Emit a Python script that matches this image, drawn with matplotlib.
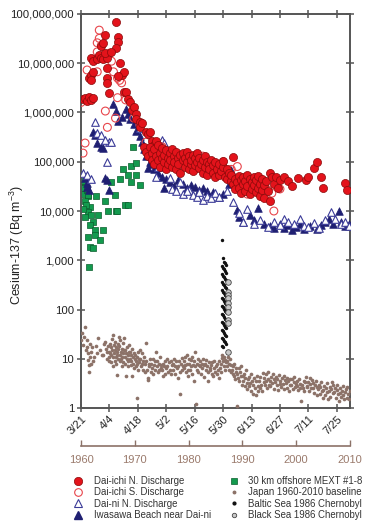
"""
Cesium-137 off Fukushima (2011) vs. historical baselines
"""
import numpy as np
import matplotlib
matplotlib.use("Agg")
import matplotlib.pyplot as plt
from matplotlib.ticker import FuncFormatter, NullLocator
from matplotlib.lines import Line2D

plt.rcParams["font.family"] = ["Liberation Sans", "DejaVu Sans"]
plt.rcParams["mathtext.default"] = "regular"

# -----------------------------
# Data (days since 3/21/2011, Bq m-3)
# -----------------------------
date_ticks = [0, 14, 28, 42, 56, 70, 84, 98, 112, 126]
date_labels = ["3/21", "4/4", "4/18", "5/2", "5/16", "5/30", "6/13", "6/27", "7/11", "7/25"]
year_ticks = [1960, 1970, 1980, 1990, 2000, 2010]

dn_day = [1, 2, 3, 4, 5, 6, 4, 5, 6, 5,
          5, 6, 8, 9, 10, 11, 13, 12, 10, 11, 12, 17, 18, 18, 17, 15, 19,
          13, 13, 13, 14, 20, 21, 18,
          21, 22, 23, 24, 25, 26, 27, 27, 29, 29, 30, 32, 33, 34, 35, 36, 37, 38,
          31, 32, 33, 34, 35, 35, 36, 36, 37, 38, 38, 39, 39, 40, 40, 41, 41, 42, 42,
          43, 43, 44, 44, 45, 45, 46, 46, 47, 47, 48, 48, 49, 49, 50, 50, 51, 51, 52,
          52, 53, 53, 54, 54, 55, 55, 56, 56, 57, 57, 58, 58, 59, 60, 60, 61, 61, 62,
          62, 63, 63, 64, 65, 65, 66, 66, 67, 68, 68, 69, 70, 70, 71, 72, 72, 73, 75,
          74, 74, 75, 76, 76, 77, 78, 78, 79, 79, 80, 80, 81, 81, 82, 82, 83, 83, 84,
          84, 85, 85, 86, 86, 87, 87, 88, 88, 89, 89, 90, 90, 91, 92, 93, 93, 94, 95,
          96, 97, 98, 100, 102, 104, 107,
          111, 112, 115, 116, 118, 119, 130, 131]
dn_val = [1.9e6, 2.0e6, 1.7e6, 2.1e6, 1.8e6, 2.0e6, 5.0e6, 5.8e6, 6.7e6, 4.6e6,
          1.3e7, 1.1e7, 1.2e7, 1.5e7, 1.3e7, 1.2e7, 1.3e7, 1.6e7, 2.2e7, 2.6e7, 3.7e7, 6.9e7, 3.4e7, 2.7e7, 2.0e7, 1.7e7, 1.0e7,
          8.0e6, 5.0e6, 4.0e6, 2.5e6, 5.8e6, 6.6e6, 5.5e6,
          2.6e6, 2.6e6, 1.9e6, 1.6e6, 1.1e6, 1.3e6, 9.4e5, 7.4e5, 6.5e5, 5.0e5, 6.0e5, 4.0e5, 3.6e5, 4.0e5, 2.6e5, 2.2e5, 2.6e5, 1.8e5,
          2.0e5, 1.6e5, 1.3e5, 2.0e5, 1.5e5, 1.1e5, 9e4, 1.8e5, 1.3e5, 1.1e5, 2.2e5, 1.5e5, 8e4, 1.2e5, 1.9e5, 1.0e5, 1.4e5, 7e4, 1.7e5,
          1.2e5, 9e4, 1.5e5, 1.1e5, 1.8e5, 8e4, 1.3e5, 1.0e5, 1.6e5, 7e4, 1.2e5, 9e4, 1.4e5, 6e4, 1.1e5, 1.5e5, 8e4, 1.2e5, 1.0e5,
          1.6e5, 7e4, 1.3e5, 9e4, 1.1e5, 1.4e5, 6.5e4, 1.2e5, 8.5e4, 1.0e5, 1.5e5, 7.5e4, 1.2e5, 9e4, 1.1e5, 6e4, 1.3e5, 8e4, 1.0e5,
          5.5e4, 9e4, 7e4, 1.1e5, 6e4, 8.5e4, 1.0e5, 5e4, 7e4, 9e4, 5.5e4, 6.5e4, 8e4, 1.05e5, 5e4, 7e4, 4.5e4, 6e4, 1.26e5,
          4.0e4, 5.5e4, 3.5e4, 4.5e4, 2.8e4, 3.8e4, 5.2e4, 3.0e4, 4.2e4, 2.3e4, 3.5e4, 5.0e4, 2.6e4, 4.0e4, 3.2e4, 5.5e4, 2.2e4, 4.5e4, 3.8e4,
          2.8e4, 4.8e4, 3.3e4, 2.4e4, 4.2e4, 3.0e4, 5.2e4, 2.0e4, 3.6e4, 4.5e4, 2.7e4, 3.3e4, 1.8e4, 4.0e4, 2.5e4, 6.0e4, 1.6e4, 5.0e4, 3.6e4,
          4.8e4, 3.0e4, 4.2e4, 5.0e4, 4.0e4, 3.2e4, 4.7e4,
          4.2e4, 5.0e4, 7.5e4, 1.0e5, 5.0e4, 3.0e4, 3.7e4, 2.7e4]

ds_day = [0, 2, 1, 13, 12, 18, 19, 3, 6, 8, 8, 9, 9, 10, 11, 14, 15, 8, 16, 18, 20,
          22, 17, 26, 29,
          32, 35, 38, 40, 42, 44, 46, 48, 50, 52, 54, 56, 58, 60, 62, 64, 66, 68, 70,
          72, 74, 76, 77, 78, 80, 82, 84, 86, 88, 90, 92, 94, 95, 96, 98]
ds_val = [1.6e6, 2.4e5, 1.5e5, 5e5, 1.07e6, 2e6, 4.5e6, 7.3e6, 1.2e7, 1.7e7, 2.6e7, 4.7e7, 3.2e7, 2.3e7, 1.3e7, 1.6e7, 1.1e7, 6.7e6, 6.7e6, 5e6, 4e6,
          1.8e6, 7.7e5, 7.7e5, 5.6e5,
          2.5e5, 1.7e5, 1.3e5, 2.0e5, 1.5e5, 1.0e5, 1.2e5, 8e4, 1.3e5, 9e4, 1.2e5, 7e4, 1.0e5, 1.3e5, 8e4, 6e4, 9e4, 7e4, 1.0e5,
          5e4, 7e4, 3.5e4, 8e4, 4.5e4, 3e4, 2.2e4, 4e4, 2.8e4, 3.4e4, 2.4e4, 2.7e4, 2.3e4, 1.0e4, 3.5e4, 2.8e4]

dni_day = [1, 3, 5, 7, 8, 10, 13, 14, 12, 29, 40, 38, 44, 49, 53, 15, 41, 37,
           45, 47, 50, 52, 55, 57, 58, 60, 62, 64, 66, 68, 72, 75, 78, 80, 82, 85,
           88, 92, 95, 98, 100, 102, 105, 108, 110, 112, 115, 117, 120, 123, 125, 128, 130, 132]
dni_val = [5.9e4, 5.4e4, 4.5e4, 6.4e5, 3.8e5, 3.5e5, 9.8e4, 2.5e5, 2.8e5, 4.8e5, 2.8e5, 8e4, 4.7e4, 3.9e4, 2.7e4, 2.5e5, 2.4e5, 5e4,
           2.8e4, 2.5e4, 2.2e4, 2.6e4, 2.1e4, 1.9e4, 2.4e4, 1.7e4, 2.0e4, 1.8e4, 2.3e4, 1.9e4, 2.5e4, 1.5e4, 9e3, 6e3, 1.1e4, 5.5e3,
           6.5e3, 4.7e3, 6e3, 5.2e3, 7e3, 6e3, 5.5e3, 6.8e3, 5e3, 4.8e3, 5.8e3, 4.5e3, 6.5e3, 9.5e3, 7e3, 5.5e3, 6e3, 5e3]

iw_day = [2, 3, 4, 3, 6, 7, 8, 10, 11, 12, 13, 14, 16, 17, 18, 20, 22, 23, 24, 26, 27, 29,
          30, 31, 32, 33, 34, 35, 36, 38, 40, 41, 42, 44, 46, 48, 50, 52, 54, 56, 58, 60,
          62, 65, 68, 70, 73, 74, 75, 77, 78, 80, 83, 85, 87, 90, 93, 95, 98, 100, 102,
          104, 106, 108, 110, 113, 116, 118, 120, 122, 124, 127, 128, 130, 132]
iw_val = [4.6e4, 3.7e4, 2.7e4, 3.1e4, 4.0e5, 3.5e5, 2.4e5, 2.0e5, 1.9e5, 4.6e4, 4.3e4, 2.7e4, 1.5e6, 1.07e6, 6.7e5, 8e5, 1.2e6, 9.4e5, 7.4e5, 5.8e5, 4.2e5, 3.3e5,
          2.5e5, 1.8e5, 1.3e5, 7.5e4, 1.0e5, 9e4, 7e4, 6e4, 5e4, 3e4, 4.5e4, 3.8e4, 3.2e4, 4.3e4, 3.5e4, 2.9e4, 3.4e4, 3.1e4, 2.7e4, 3.0e4,
          2.6e4, 2.4e4, 1.9e4, 2.2e4, 3.5e4, 6.9e4, 5e4, 1.05e4, 7.6e3, 6e3, 8.3e3, 6.6e3, 1.15e4, 5.5e3, 5e3, 4.6e3, 5.5e3, 4.5e3, 5.2e3,
          4.2e3, 4.8e3, 5.5e3, 4.3e3, 5e3, 4.4e3, 5.2e3, 6e3, 7e3, 5.5e3, 1.0e4, 6e3, 5e3, 5.5e3]

mext_day = [2, 2.5, 3.4, 2, 4.4, 3.4, 2, 4.9, 8.4, 5.9, 4.4, 6.9, 10.8, 3.4, 6.9, 9.4, 4.4, 5.9, 3.9,
            7.4, 11.8, 13.3, 17.2, 21.7, 23.2, 14.8, 19.2, 20.7, 23.2, 24.6, 27.1, 27.1, 24.6, 29,
            25.6, 16.7, 17.7, 1, 1, 1.5, 2.5, 1, 3, 3.4]
mext_val = [3.6e4, 2.4e4, 2e4, 1.6e4, 1.2e4, 9.5e3, 7.6e3, 8.3e3, 8.3e3, 6e3, 5.2e3, 4.1e3, 4.1e3, 3e3, 3.3e3, 2.6e3, 1.9e3, 1.8e3, 730,
            2e4, 1.6e4, 1e4, 1e4, 1.3e4, 1.3e4, 3.9e4, 4.5e4, 7e4, 5.5e4, 8.2e4, 9.5e4, 5.3e4, 3.9e4, 3.3e4,
            2e5, 2.1e4, 1e4, 4e4, 3e4, 2.2e4, 1.3e4, 1.1e4, 2.7e4, 2.1e4]

# Japan 1960-2010 baseline, values per year
jp_years = list(range(1960, 2010))
jp_vals = [
    [24, 34, 19, 28, 45, 15],
    [24, 17, 9.5, 13, 7.6, 5.5, 11, 20, 14, 8],
    [17, 8.8, 11, 18, 13],
    [27, 15, 12],
    [12, 20, 22, 16, 10, 14],
    [18, 14, 11, 9, 20, 13, 8.5, 17, 12, 25, 15, 11, 7],
    [31, 19, 13, 9, 22, 15, 11, 8, 17, 12, 4.7, 14, 10, 20, 16],
    [28, 18, 12, 9, 24, 14, 10, 7, 16, 11, 13, 21, 8.5, 15],
    [26, 15, 11, 8, 4.4, 13, 10, 17, 7, 12, 9, 14, 19],
    [14, 10, 7.5, 12, 9, 4.4, 16, 11, 8, 13, 6.5, 10],
    [12, 9, 7, 1.6, 11, 8, 14, 6, 10, 8.5, 15],
    [10, 7, 13, 8, 6, 9, 11, 5.5, 8],
    [21, 9, 6, 4.1, 3.7, 8, 7, 10, 5.5],
    [8, 6.5, 10, 5, 7.5, 9, 6, 14],
    [7, 9, 5.5, 8, 6, 11, 6.5, 7.5],
    [6, 8, 4.5, 7, 9, 5, 6.5, 10],
    [7, 5.5, 8.5, 6, 9, 4.8, 7.5],
    [8, 6, 10, 7, 5, 9, 6.5, 4],
    [7, 9, 5.5, 1.9, 8, 6, 10.5, 7],
    [9, 6.5, 11, 7.5, 5.5, 8, 12, 6, 4.5],
    [8, 10, 6, 7, 9.5, 5, 11, 7.5, 3.5],
    [9, 14, 7, 1.2, 8, 6, 10, 5.5, 7.5],
    [7, 9, 5, 8, 6.5, 10, 4.2, 7.5],
    [8, 6, 9.5, 7, 5.5, 3.5, 8.5, 6.5],
    [6, 7.5, 5, 8.5, 4.5, 6.5, 9, 5.5],
    [7, 5, 8, 6, 4, 9, 6.5, 5.5],
    [8, 10.5, 12, 9, 7, 11, 6, 9.5, 8.5],
    [9, 7, 11, 6, 8, 10, 5.5, 7.5],
    [6, 5, 7, 4.5, 8, 3.8, 5.5, 6.5, 1.1],
    [5, 4, 6.5, 3.5, 5.5, 4.5, 7, 3],
    [4.5, 3.5, 5, 2.8, 4, 6, 3.2, 2.4],
    [3.8, 2.8, 4.2, 3.2, 2.2, 5, 3.5, 1.9],
    [3, 4, 2.5, 3.5, 1.8, 4.5, 2.8, 2.2],
    [3.5, 2.6, 4.2, 3, 2.2, 5.2, 3.3],
    [4, 3, 4.8, 3.5, 2.5, 5.5, 3.8, 2.9],
    [3.6, 2.8, 4.3, 3.2, 4.8, 2.4, 3.9],
    [3.4, 4.2, 2.9, 3.8, 2.3, 4.6, 3.1],
    [3.5, 2.7, 4, 3.1, 4.5, 2.4, 3.7],
    [3.2, 4.1, 2.6, 3.6, 2.2, 3.9, 2.9],
    [3, 3.8, 2.4, 3.4, 4.3, 2.7, 3.1],
    [2.8, 3.5, 2.3, 3.9, 3.1, 2.6, 1.4],
    [3, 2.5, 3.6, 2.2, 3.3, 4.2, 2.8],
    [2.7, 3.4, 2.2, 3.1, 4, 2.5, 3.7],
    [2.5, 3.2, 2, 2.9, 3.6, 1.8, 2.7],
    [2.4, 3, 1.9, 2.7, 3.4, 2.2, 1.6],
    [2.3, 2.8, 1.8, 2.5, 3.2, 2.1, 1.5],
    [2.2, 2.7, 1.7, 2.4, 3.3, 2, 2.9],
    [2.1, 2.6, 1.6, 2.3, 3, 1.9, 1.4],
    [2, 2.5, 1.7, 2.2, 2.8, 1.8, 1.5],
    [2.1, 2.4, 1.6, 2.7, 1.9, 1.5, 2.2],
]

baltic_val = [2600, 1100, 930, 880, 820, 760, 700, 650, 610, 560, 520, 480, 450, 420, 390,
              360, 335, 310, 290, 270, 250, 232, 215, 200, 186, 172, 160, 148, 137, 127,
              118, 110, 102, 95, 88, 82, 76, 70, 65, 60, 56, 52, 48, 45, 42, 39, 36,
              34, 31, 29, 27, 25, 23, 21.5, 20, 18.5, 17]
blacksea_val = [366, 229, 200, 170, 137, 110, 90, 62, 54, 14]

# -----------------------------
# Figure
# -----------------------------
fig = plt.figure(figsize=(3.79, 5.26), dpi=100)
ax = fig.add_axes([0.2137, 0.2243, 0.7098, 0.7491])
ax2 = ax.twiny()

red = "#e3131b"
navy = "#1f1f72"
green = "#139a4e"
brown = "#8c7268"
axis_grey = "#555555"

ax.scatter(mext_day, mext_val, marker="s", s=24, color=green, edgecolor="#0b5e2d", linewidth=0.5, zorder=2)
ax.scatter(iw_day, iw_val, marker="^", s=30, color=navy, edgecolor=navy, linewidth=0.5, zorder=3)
ax.scatter(dni_day, dni_val, marker="^", s=30, facecolor="white", edgecolor="#3b3b98", linewidth=0.8, zorder=3)
ax.scatter(ds_day, ds_val, marker="o", s=32, facecolor="none", edgecolor="#e8454b", linewidth=0.8, zorder=4)
ax.scatter(dn_day, dn_val, marker="o", s=34, color=red, edgecolor="#8a0a0a", linewidth=0.5, zorder=5)

# historical series on the year axis
jp_x, jp_y = [], []
for yr, vals in zip(jp_years, jp_vals):
    n = len(vals)
    for i, v in enumerate(vals):
        jp_x.append(yr + (i + 0.5) / n)
        jp_y.append(v)
ax2.scatter(jp_x, jp_y, marker="o", s=7, color=brown, linewidth=0, zorder=2)

baltic_x = [1986.3 + 0.15 * (i % 5) for i in range(len(baltic_val))]
ax2.scatter(baltic_x, baltic_val, marker="o", s=6, color="#111111", linewidth=0, zorder=3)
ax2.scatter([1987.3] * len(blacksea_val), blacksea_val, marker="o", s=16,
            facecolor="#c8c8c8", edgecolor="#444444", linewidth=0.6, zorder=4)

# main axis styling
ax.set_yscale("log")
ax.set_ylim(1, 1e8)
ax.set_xlim(0, 132.5)
ax.set_yticks([10 ** k for k in range(9)])
ax.yaxis.set_minor_locator(NullLocator())
ax.yaxis.set_major_formatter(FuncFormatter(lambda v, p: f"{v:,.0f}"))
ax.set_xticks(date_ticks)
ax.set_xticklabels(date_labels)
for side in ["left", "right", "top", "bottom"]:
    ax.spines[side].set_color(axis_grey)
    ax.spines[side].set_linewidth(1.4)
ax.tick_params(axis="y", which="major", direction="inout", length=6, width=1.1,
               left=True, right=True, labelsize=8.2, colors=axis_grey, labelcolor="#222222", pad=2)
ax.tick_params(axis="x", which="major", direction="inout", length=6, width=1.1,
               bottom=True, top=True, labeltop=False, labelsize=8, colors=axis_grey, labelcolor="#222222", pad=1)
for lbl in ax.get_xticklabels():
    lbl.set_rotation(45)
    lbl.set_ha("right")
    lbl.set_rotation_mode("anchor")

# year axis below the dates
ax2.set_xlim(1960, 2010)
ax2.set_xticks(year_ticks)
for side in ["left", "right", "top"]:
    ax2.spines[side].set_visible(False)
ax2.spines["bottom"].set_visible(True)
ax2.spines["bottom"].set_position(("outward", 27.5))
ax2.spines["bottom"].set_color(brown)
ax2.spines["bottom"].set_linewidth(1.2)
ax2.xaxis.set_ticks_position("bottom")
ax2.xaxis.set_label_position("bottom")
ax2.tick_params(axis="x", direction="in", length=4, width=1.0, colors=brown,
                labelsize=8, labelcolor="#9a7a6c", pad=6)

fig.text(17 / 379, 1 - 245 / 526, "Cesium-137 (Bq m$^{-3}$)", rotation=90,
         ha="center", va="center", fontsize=9, color="#222222")

# legend
left_handles = [
    Line2D([], [], ls="none", marker="o", ms=6, mfc=red, mec="#8a0a0a", mew=0.5),
    Line2D([], [], ls="none", marker="o", ms=5.5, mfc="none", mec="#e8454b", mew=0.8),
    Line2D([], [], ls="none", marker="^", ms=5.5, mfc="white", mec="#3b3b98", mew=0.8),
    Line2D([], [], ls="none", marker="^", ms=5.5, mfc=navy, mec=navy),
]
left_labels = ["Dai-ichi N. Discharge", "Dai-ichi S. Discharge", "Dai-ni N. Discharge",
               "Iwasawa Beach near Dai-ni"]
right_handles = [
    Line2D([], [], ls="none", marker="s", ms=5, mfc=green, mec="#0b5e2d", mew=0.5),
    Line2D([], [], ls="none", marker="o", ms=1.8, mfc=brown, mec=brown),
    Line2D([], [], ls="none", marker="o", ms=2, mfc="#111111", mec="#111111"),
    Line2D([], [], ls="none", marker="o", ms=3.2, mfc="#c8c8c8", mec="#444444", mew=0.6),
]
right_labels = ["30 km offshore MEXT #1-8", "Japan 1960-2010 baseline",
                "Baltic Sea 1986 Chernobyl", "Black Sea 1986 Chernobyl"]
for handles, labels, x0, tpad in [(left_handles, left_labels, 73 / 379, 1.2),
                                  (right_handles, right_labels, 229 / 379, 1.0)]:
    fig.legend(handles, labels, loc="upper left", bbox_to_anchor=(x0, 1 - 476 / 526),
               frameon=False, fontsize=6.9, borderpad=0, borderaxespad=0,
               handlelength=1.0, handletextpad=tpad, labelspacing=0.14, labelcolor="#333333")

fig.savefig("out.png", dpi=100)
